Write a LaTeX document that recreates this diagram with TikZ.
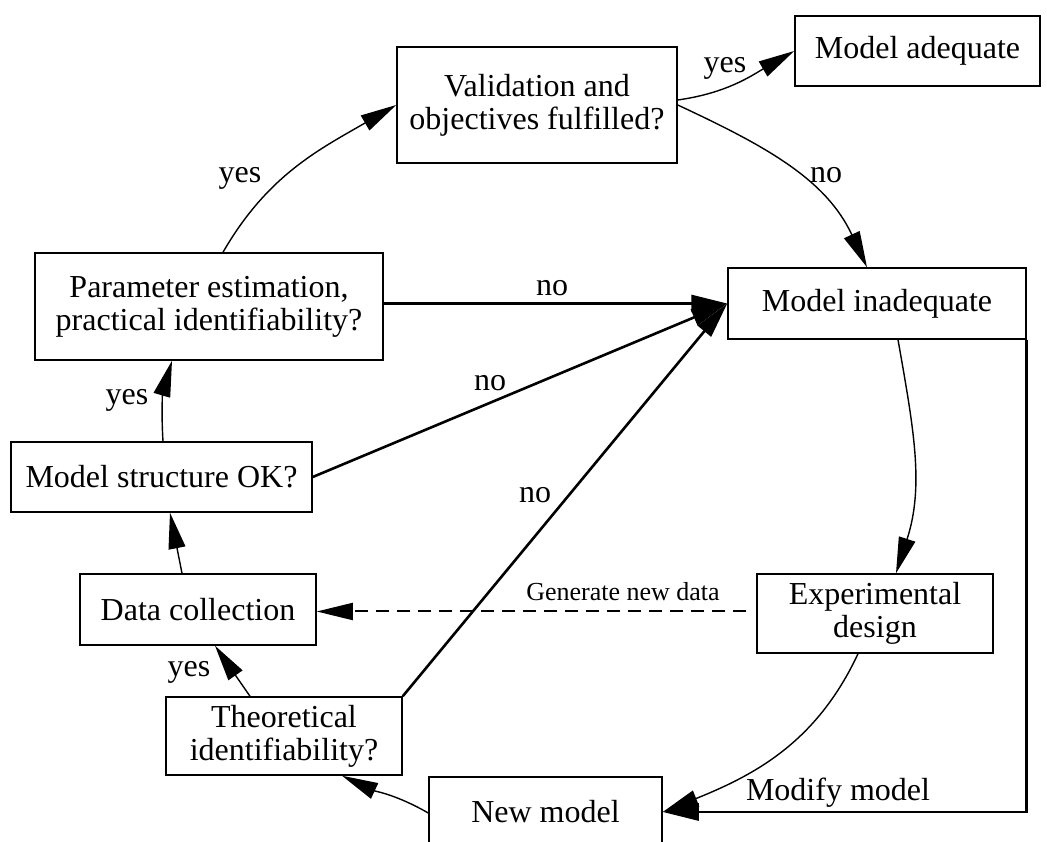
\documentclass[tikz,border=0pt]{standalone}
\usepackage{fontspec}
\setmainfont{Liberation Serif}
\usetikzlibrary{arrows.meta,calc}

\begin{document}
\begin{tikzpicture}[x=1pt,y=1pt,font=\fontsize{32}{33}\selectfont,
  box/.style={draw,line width=1.5pt,align=center,inner sep=0pt},
  flow/.style={-{Triangle[length=36pt,width=17pt]},line width=1.4pt},
  thk/.style={-{Triangle[length=36pt,width=17pt]},line width=2.6pt}]
\useasboundingbox (0,0) rectangle (1047,841);
% boxes
\node[box,minimum width=280pt,minimum height=116pt] (valid) at (537,736) {Validation and\\objectives fulfilled?};
\node[box,minimum width=245pt,minimum height=70pt] (adequate) at (917.5,790) {Model adequate};
\node[box,minimum width=298pt,minimum height=71pt] (inadequate) at (877,537.5) {Model inadequate};
\node[box,minimum width=348pt,minimum height=107pt] (param) at (209,534.5) {Parameter estimation,\\practical identifiability?};
\node[box,minimum width=301pt,minimum height=70pt] (struct) at (161.5,364) {Model structure OK?};
\node[box,minimum width=236pt,minimum height=71pt] (datacol) at (198,231.5) {Data collection};
\node[box,minimum width=236pt,minimum height=79pt] (expdes) at (875,227.5) {Experimental\\design};
\node[box,minimum width=236pt,minimum height=78pt] (theo) at (284,105) {Theoretical\\identifiability?};
\node[box,minimum width=233pt,minimum height=70pt] (newmod) at (545.5,29) {New model};
% connectors
\draw[flow] ($(param.north)+(14,0)$) to[out=60,in=210] (valid.west);
\draw[flow] ($(valid.east)+(0,5)$) to[out=8,in=210] (adequate.west);
\draw[flow] (valid.east) to[out=-25,in=115] ($(inadequate.north)+(-10,0)$);
\draw[thk] (param.east |- inadequate.west) -- (inadequate.west);
\draw[thk] (struct.east) -- (inadequate.west);
\draw[thk] (theo.north east) -- (inadequate.west);
\draw[flow] ($(struct.north)+(1.5,0)$) to[bend left=10] ($(param.south)+(-37,0)$);
\draw[flow] ($(datacol.north)+(-16,0)$) -- ($(struct.south)+(8.5,0)$);
\draw[flow] ($(theo.north)+(-34,0)$) -- ($(datacol.south)+(17,0)$);
\draw[flow] ($(newmod.west)+(0,-1)$) to[out=150,in=-25] ($(theo.south)+(58,0)$);
\draw[flow,line width=2pt,dash pattern=on 13pt off 8pt] ($(expdes.west)+(-10,2)$) -- ($(datacol.east |- expdes.west)+(0,2)$);
\draw[flow] ($(inadequate.south)+(21,0)$) to[out=-80,in=72] ($(expdes.north)+(21,0)$);
\draw[flow] ($(expdes.south)+(-17,0)$) to[out=-115,in=22] (newmod.east);
\draw[thk] (inadequate.south east) |- (newmod.east);
% labels
\node (yesval) at (240,663) {yes};
\node (yesadq) at (725,773) {yes};
\node (noval) at (826,666) {no};
\node (nopar) at (552,553) {no};
\node (nostr) at (490,458) {no};
\node (notheo) at (535,346) {no};
\node (yesstr) at (127,441) {yes};
\node (yestheo) at (189,169) {yes};
\node[font=\fontsize{26}{28}\selectfont] (gendata) at (623,249) {Generate new data};
\node (modify) at (838,48) {Modify model};
\end{tikzpicture}
\end{document}
